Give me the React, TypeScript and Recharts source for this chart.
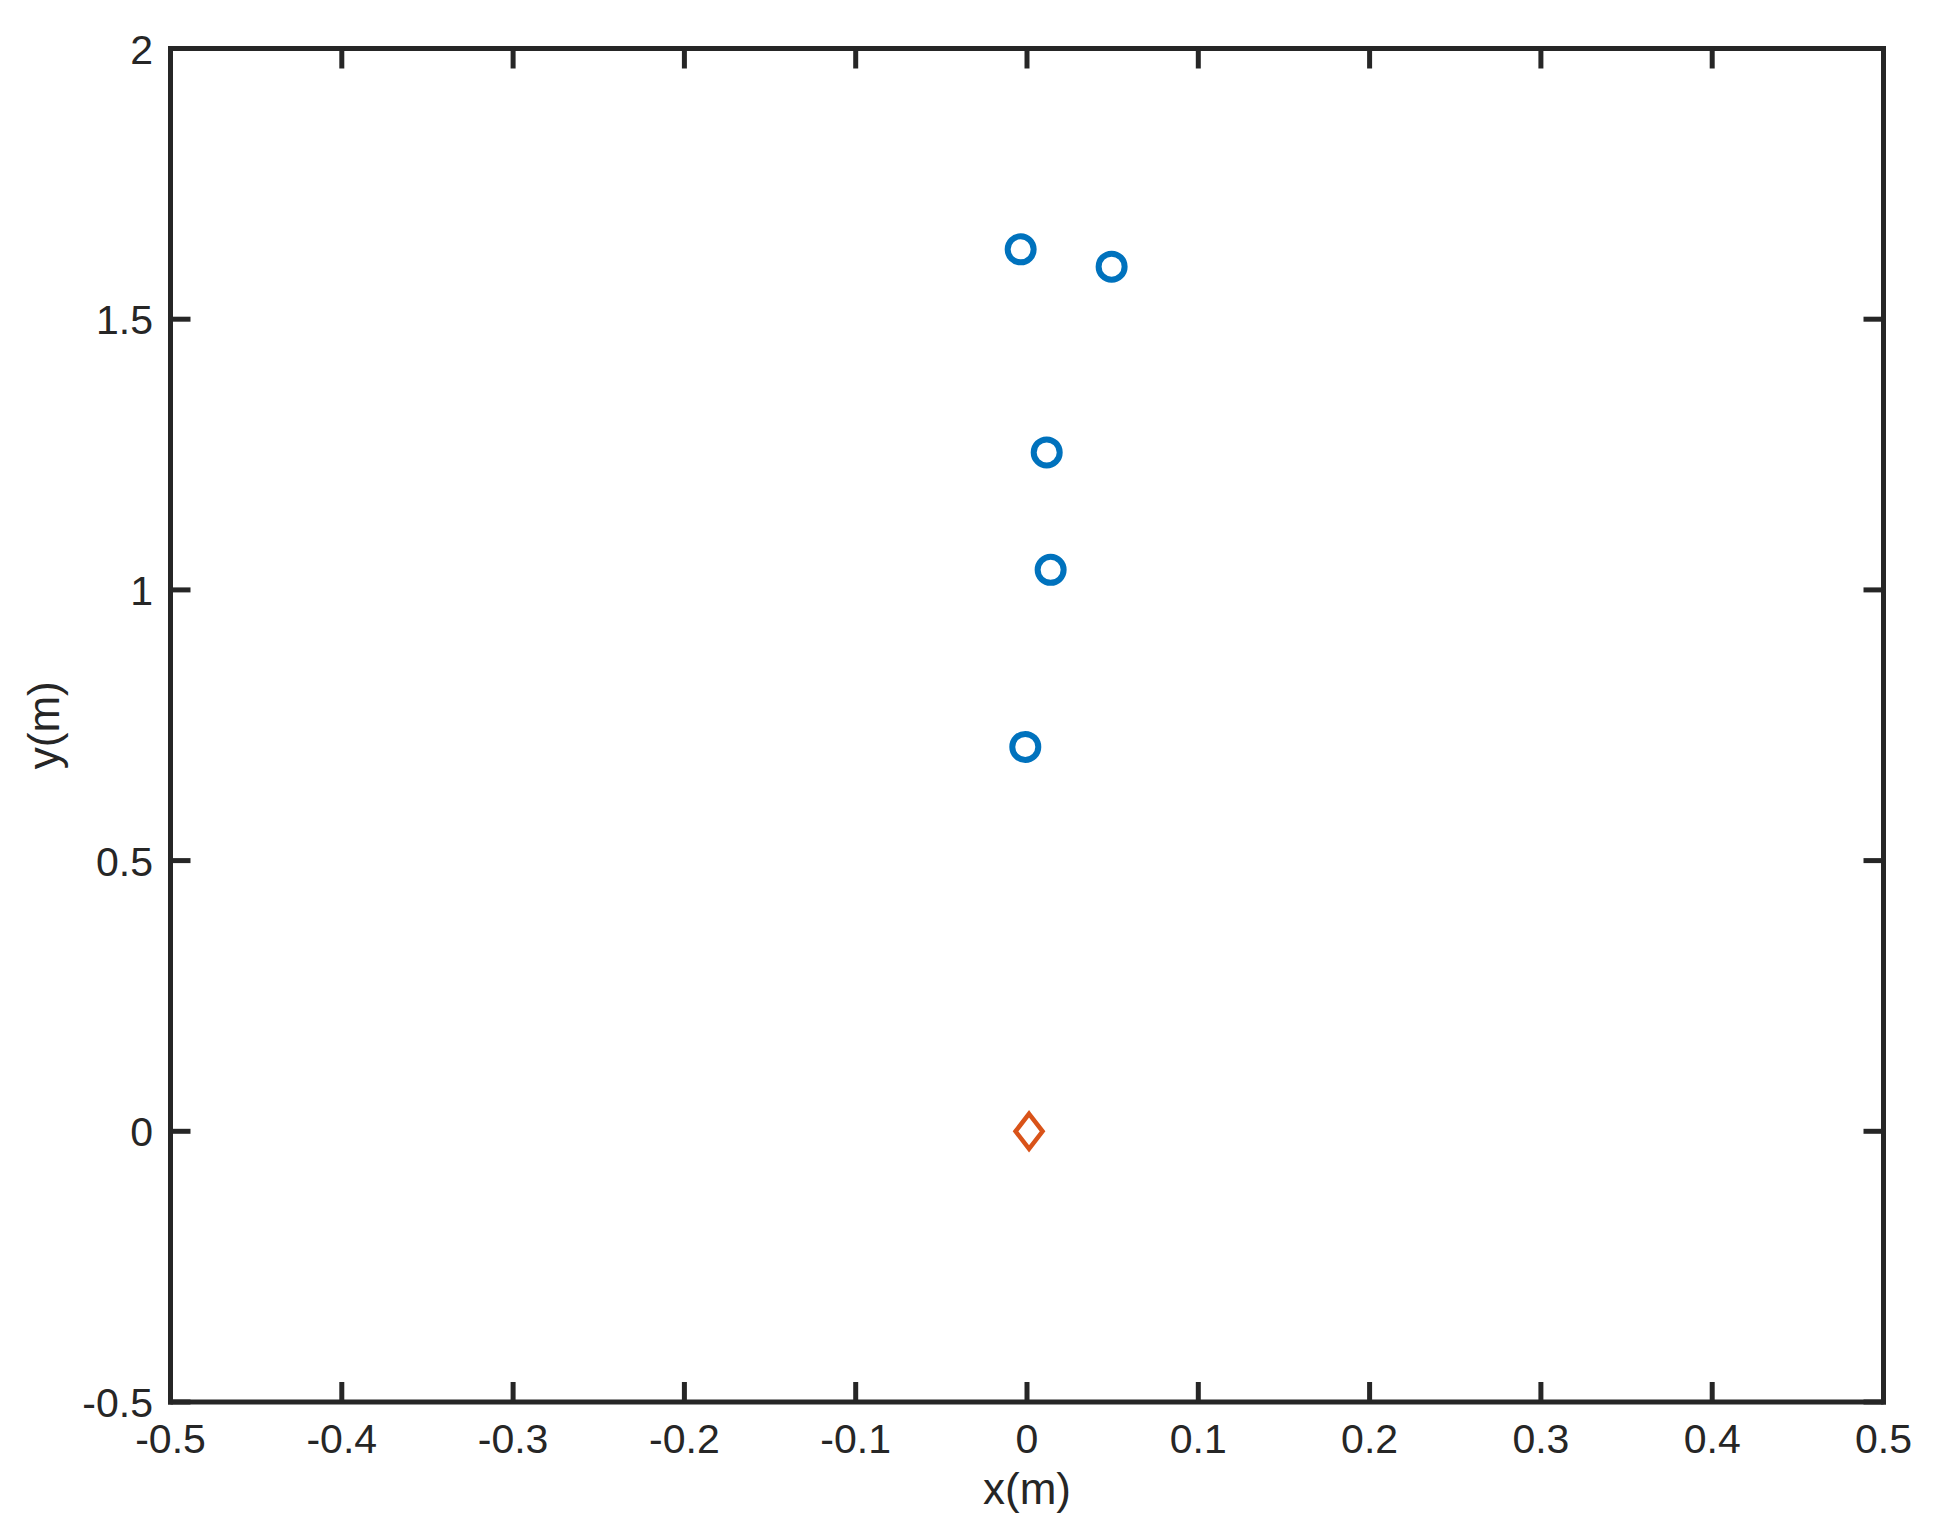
import React from "react";
import { ScatterChart, Scatter, XAxis, YAxis } from "recharts";

// values
const xTicks = [-0.5, -0.4, -0.3, -0.2, -0.1, 0, 0.1, 0.2, 0.3, 0.4, 0.5];
const yTicks = [-0.5, 0, 0.5, 1, 1.5, 2];

const circleX = [-0.0037, 0.0494, 0.0115, 0.0138, -0.001];
const circleY = [1.629, 1.597, 1.254, 1.037, 0.71];

const diamondX = [0.0012];
const diamondY = [0];

const AXIS_COLOR = "#262626";
const FONT = "'Liberation Sans', Arial, Helvetica, sans-serif";

const circles = circleX.map((x, i) => ({ x, y: circleY[i] }));
const diamonds = diamondX.map((x, i) => ({ x, y: diamondY[i] }));

type Side = "bottom" | "top" | "left" | "right";

const fmt = (v: number) => String(v);

// ticks point inward like matlab, labels only on bottom/left
const makeTick = (side: Side) => (props: any) => {
    const { x, y, payload } = props;
    const len = 20;
    let x2 = x;
    let y2 = y;
    if (side === "bottom") y2 = y - len;
    if (side === "top") y2 = y + len;
    if (side === "left") x2 = x + len;
    if (side === "right") x2 = x - len;
    return (
        <g>
            <line x1={x} y1={y} x2={x2} y2={y2} stroke={AXIS_COLOR} strokeWidth={5} />
            {side === "bottom" && (
                <text x={x} y={y + 51} textAnchor="middle" fill={AXIS_COLOR} fontSize={41} fontFamily={FONT}>
                    {fmt(payload.value)}
                </text>
            )}
            {side === "left" && (
                <text x={x - 17.5} y={y + 15} textAnchor="end" fill={AXIS_COLOR} fontSize={41} fontFamily={FONT}>
                    {fmt(payload.value)}
                </text>
            )}
        </g>
    );
};

const renderCircle = (props: any) => {
    const { cx, cy } = props;
    return <circle cx={cx} cy={cy} r={13} fill="none" stroke="#0072BD" strokeWidth={6} />;
};

const renderDiamond = (props: any) => {
    const { cx, cy } = props;
    const w = 13.5;
    const h = 17.5;
    const d = `M${cx},${cy - h} L${cx + w},${cy} L${cx},${cy + h} L${cx - w},${cy} Z`;
    return <path d={d} fill="none" stroke="#D95319" strokeWidth={4.5} strokeLinejoin="miter" />;
};

const renderNothing = () => <g />;

const xTitle = (props: any) => {
    const { viewBox } = props;
    return (
        <text x={viewBox.x + viewBox.width / 2} y={viewBox.y + 102} textAnchor="middle" fill={AXIS_COLOR} fontSize={44} fontFamily={FONT}>
            x(m)
        </text>
    );
};

const yTitle = (props: any) => {
    const { viewBox } = props;
    const cy = viewBox.y + viewBox.height / 2;
    return (
        <text x={59} y={cy} transform={`rotate(-90, 59, ${cy})`} textAnchor="middle" fill={AXIS_COLOR} fontSize={44} fontFamily={FONT}>
            y(m)
        </text>
    );
};

const axisLine = { stroke: AXIS_COLOR, strokeWidth: 5, strokeLinecap: "square" as const };

const App: React.FC = () => {
    return (
        <div style={{ position: "absolute", left: 0, top: 0, background: "#fff" }}>
            <ScatterChart width={1944} height={1527} margin={{ top: 47.5, right: 59.5, bottom: 0, left: 0 }}>
                <XAxis
                    xAxisId={0}
                    type="number"
                    dataKey="x"
                    domain={[-0.5, 0.5]}
                    ticks={xTicks}
                    interval={0}
                    allowDataOverflow
                    height={125}
                    tickSize={0}
                    tickMargin={0}
                    tickLine={false}
                    axisLine={axisLine}
                    tick={makeTick("bottom")}
                    label={{ content: xTitle }}
                />
                <XAxis
                    xAxisId="top"
                    orientation="top"
                    type="number"
                    dataKey="x"
                    domain={[-0.5, 0.5]}
                    ticks={xTicks}
                    interval={0}
                    allowDataOverflow
                    height={1}
                    tickSize={0}
                    tickMargin={0}
                    tickLine={false}
                    axisLine={axisLine}
                    tick={makeTick("top")}
                />
                <YAxis
                    yAxisId={0}
                    type="number"
                    dataKey="y"
                    domain={[-0.5, 2]}
                    ticks={yTicks}
                    interval={0}
                    allowDataOverflow
                    width={170.5}
                    tickSize={0}
                    tickMargin={0}
                    tickLine={false}
                    axisLine={axisLine}
                    tick={makeTick("left")}
                    label={{ content: yTitle }}
                />
                <YAxis
                    yAxisId="right"
                    orientation="right"
                    type="number"
                    dataKey="y"
                    domain={[-0.5, 2]}
                    ticks={yTicks}
                    interval={0}
                    allowDataOverflow
                    width={1}
                    tickSize={0}
                    tickMargin={0}
                    tickLine={false}
                    axisLine={axisLine}
                    tick={makeTick("right")}
                />
                <Scatter data={circles} xAxisId={0} yAxisId={0} shape={renderCircle} isAnimationActive={false} />
                <Scatter data={diamonds} xAxisId={0} yAxisId={0} shape={renderDiamond} isAnimationActive={false} />
                {/* empty series so the top/right frame axes get drawn */}
                <Scatter data={diamonds} xAxisId="top" yAxisId="right" shape={renderNothing} isAnimationActive={false} />
            </ScatterChart>
        </div>
    );
};

export default App;
